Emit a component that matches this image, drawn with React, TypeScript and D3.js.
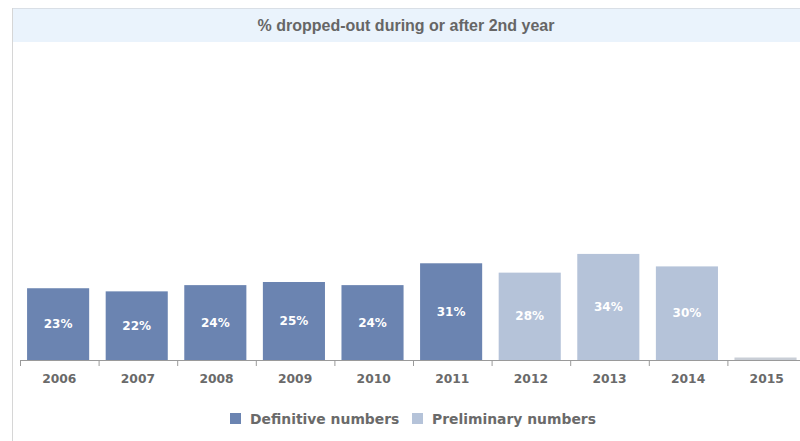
import React from "react";
import * as d3 from "d3";

const years = ["2006", "2007", "2008", "2009", "2010", "2011", "2012", "2013", "2014", "2015"];
const values = [23, 22, 24, 25, 24, 31, 28, 34, 30, 0.8];
const labels = ["23%", "22%", "24%", "25%", "24%", "31%", "28%", "34%", "30%", ""];
const kinds = ["def", "def", "def", "def", "def", "def", "pre", "pre", "pre", "empty"];
const legendNames = ["Definitive numbers", "Preliminary numbers"];
const title = "% dropped-out during or after 2nd year";

const W = 800;
const H = 441;
const colors: Record<string, string> = { def: "#6b84b1", pre: "#b5c3d9", empty: "#c9ced6" };

export default function App() {
  const x = d3.scaleBand<string>().domain(years).range([20, 806]).padding(0);
  const y = d3.scaleLinear().domain([0, 100]).range([360, 48]);
  const step = x.step();
  const barOff = step * 0.09;
  const barW = step * 0.79;
  const ticks = years.map((d) => x(d) as number).concat([806]);
  const textGray = "#6a6a6a";
  const font = "'DejaVu Sans', Verdana, sans-serif";

  return (
    <svg
      width={W}
      height={H}
      style={{ position: "absolute", left: 0, top: 0, background: "#ffffff" }}
    >
      {/* frame */}
      <rect x={12} y={8} width={W - 12} height={34} fill="#eaf3fc" />
      <line x1={12} x2={W} y1={8.5} y2={8.5} stroke="#d9dfe6" />
      <line x1={12.5} x2={12.5} y1={8} y2={H} stroke="#d6d6d6" />
      <text
        x={(12 + W) / 2}
        y={25}
        textAnchor="middle"
        dominantBaseline="central"
        fontFamily="'Liberation Sans Narrow', 'Arial Narrow', sans-serif"
        fontWeight="bold"
        fontSize={16}
        fill="#666"
      >
        {title}
      </text>

      {/* bars */}
      {years.map((yr, i) => {
        const x0 = (x(yr) as number) + barOff;
        const top = y(values[i]);
        const h = y(0) - top;
        return (
          <g key={yr}>
            <rect x={x0} y={top} width={barW} height={h} fill={colors[kinds[i]]} />
            {labels[i] && (
              <text
                x={x0 + barW / 2}
                y={top + h / 2}
                textAnchor="middle"
                dominantBaseline="central"
                fontFamily={font}
                fontWeight="bold"
                fontSize={12}
                fill="#ffffff"
              >
                {labels[i]}
              </text>
            )}
          </g>
        );
      })}

      {/* axis */}
      <line x1={20} x2={W} y1={360.5} y2={360.5} stroke="#9a9a9a" />
      {ticks.map((t, i) => (
        <line key={i} x1={t + 0.5} x2={t + 0.5} y1={360} y2={366} stroke="#9a9a9a" />
      ))}
      {years.map((yr) => (
        <text
          key={yr}
          x={(x(yr) as number) + step / 2}
          y={379}
          textAnchor="middle"
          dominantBaseline="central"
          fontFamily={font}
          fontWeight="bold"
          fontSize={12.3}
          fill={textGray}
        >
          {yr}
        </text>
      ))}

      {/* legend */}
      <rect x={230} y={413} width={11} height={11} fill={colors.def} />
      <text x={250} y={419} dominantBaseline="central" fontFamily={font} fontWeight="bold" fontSize={13.9} fill={textGray}>
        {legendNames[0]}
      </text>
      <rect x={412} y={413} width={11} height={11} fill={colors.pre} />
      <text x={432} y={419} dominantBaseline="central" fontFamily={font} fontWeight="bold" fontSize={13.9} fill={textGray}>
        {legendNames[1]}
      </text>
    </svg>
  );
}
